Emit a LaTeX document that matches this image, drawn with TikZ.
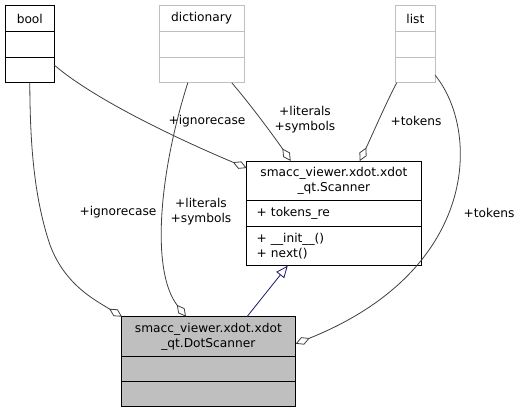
\documentclass[tikz,border=0pt]{standalone}
\usepackage{fontspec}
\setmainfont{DejaVu Sans}
\usetikzlibrary{arrows.meta, positioning, calc}
\definecolor{edgegray}{RGB}{64,64,64}
\definecolor{boxgray}{RGB}{191,191,191}
\definecolor{inheritblue}{RGB}{25,25,112}

\tikzset{
  umltext/.style={font=\fontsize{12.2}{15}\selectfont},
  classpart/.style={umltext, draw=black, line width=0.9pt, inner sep=0pt, outer sep=0pt,
    minimum height=25.7pt, anchor=north west, align=center},
  memberpart/.style={classpart, inner xsep=10pt, align=left},
  extpart/.style={classpart, draw=boxgray},
  aggr/.style={draw=edgegray, line width=0.8pt, -{Diamond[open, length=15pt, width=8pt]}},
  inherit/.style={draw=inheritblue, line width=0.8pt, -{Triangle[open, length=12pt, width=10pt]}},
  rolelabel/.style={umltext, align=center, inner sep=0pt}
}

\begin{document}
\begin{tikzpicture}[x=1pt, y=-1pt]
  \useasboundingbox[fill=white] (0,0) rectangle (522,413);

  % used classes
  \node[classpart, minimum width=49pt] (bool) at (5.3,5.7) {bool};
  \node[classpart, minimum width=49pt, below=0pt of bool] (boolattr) {};
  \node[classpart, minimum width=49pt, below=0pt of boolattr] (boolmeth) {};

  \node[extpart, minimum width=84.7pt] (dict) at (159.3,5.7) {dictionary};
  \node[extpart, minimum width=84.7pt, below=0pt of dict] (dictattr) {};
  \node[extpart, minimum width=84.7pt, below=0pt of dictattr] (dictmeth) {};

  \node[extpart, minimum width=39.3pt] (list) at (395.7,5.7) {list};
  \node[extpart, minimum width=39.3pt, below=0pt of list] (listattr) {};
  \node[extpart, minimum width=39.3pt, below=0pt of listattr] (listmeth) {};

  % base class
  \node[classpart, minimum width=174.3pt, minimum height=39.3pt] (scanner) at (246.7,161)
    {smacc\_viewer.xdot.xdot\\\_qt.Scanner};
  \node[memberpart, text width=154.3pt, below=0pt of scanner] (scannerattr) {+ tokens\_re};
  \node[memberpart, text width=154.3pt, minimum height=39.7pt, below=0pt of scannerattr] (scannermeth)
    {+ \_\_init\_\_()\\+ next()};

  % focus class
  \node[classpart, fill=boxgray, minimum width=174.7pt, minimum height=40pt] (dotscanner) at (121,316.7)
    {smacc\_viewer.xdot.xdot\\\_qt.DotScanner};
  \node[classpart, fill=boxgray, minimum width=174.7pt, minimum height=25pt, below=0pt of dotscanner] (dotattr) {};
  \node[classpart, fill=boxgray, minimum width=174.7pt, minimum height=25pt, below=0pt of dotattr] (dotmeth) {};

  % relations to Scanner
  \draw[aggr] ($(boolmeth.north east)+(0,8)$) .. controls (95,100) and (180,140) .. ($(scanner.north west)+(0,7)$);
  \draw[aggr] ($(dictmeth.south west)+(72.5,0)$) .. controls (255,110) and (280,145) .. ($(scanner.north west)+(44,0)$);
  \draw[aggr] ($(listmeth.south west)+(1,0)$) .. controls (385,105) and (370,140) .. ($(scanner.north west)+(113,0)$);

  % relations to DotScanner
  \draw[aggr] (boolmeth.south) .. controls (30,150) and (35,200) .. (50,245)
    .. controls (65,285) and (95,300) .. ($(dotscanner.north west)+(1,0)$);
  \draw[aggr] ($(dictmeth.south west)+(28.5,0)$) .. controls (160,170) and (150,270) .. ($(dotscanner.north west)+(65,0)$);
  \draw[aggr] ($(listmeth.north east)+(0,18)$) .. controls (480,130) and (480,270) .. ($(dotscanner.north east)+(0,27)$);
  \draw[inherit] ($(dotscanner.north west)+(126,0)$) -- ($(scannermeth.south west)+(41,0)$);

  % role names
  \node[rolelabel] (ignorebase) at (207,121) {+ignorecase};
  \node[rolelabel] (litbase) at (305,120) {+literals\\+symbols};
  \node[rolelabel] (tokbase) at (416,121) {+tokens};
  \node[rolelabel] (ignoredot) at (118,212) {+ignorecase};
  \node[rolelabel] (litdot) at (201,212) {+literals\\+symbols};
  \node[rolelabel] (tokdot) at (489,213) {+tokens};
\end{tikzpicture}
\end{document}
